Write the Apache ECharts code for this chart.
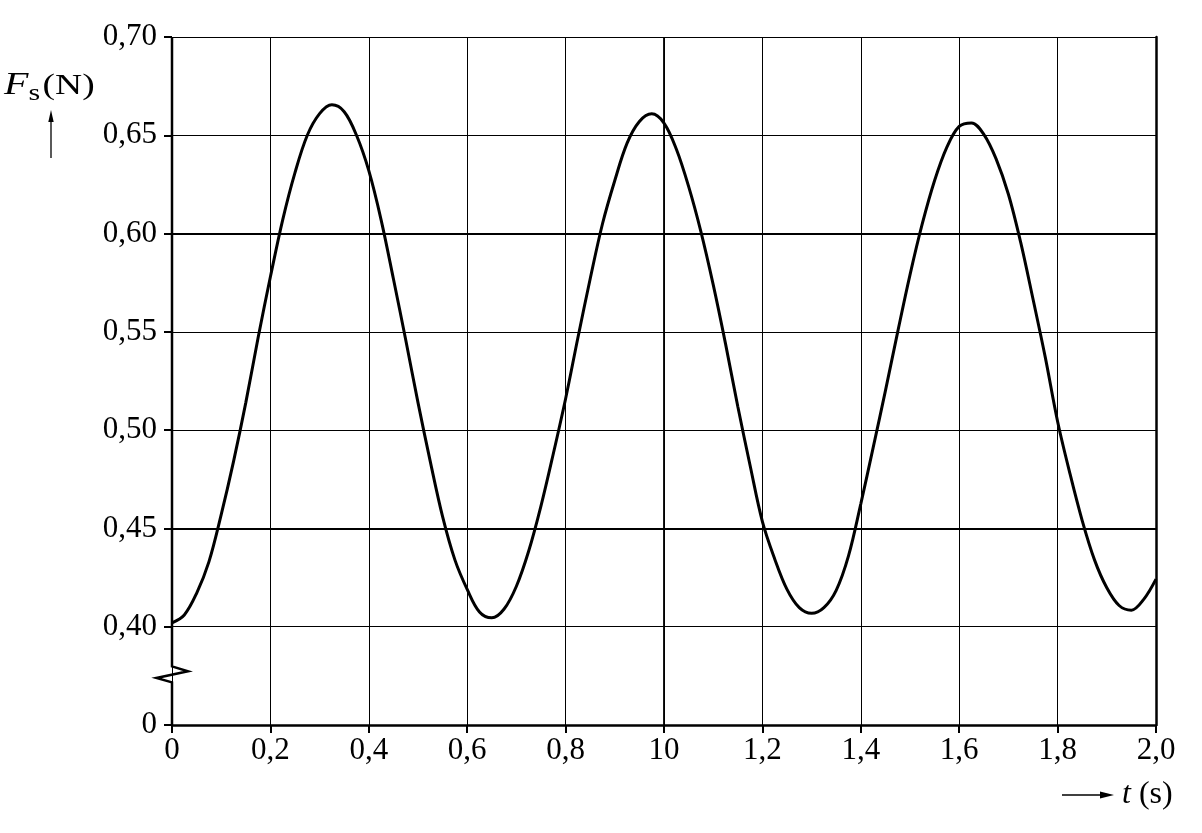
<!DOCTYPE html>
<html>
<head>
<meta charset="utf-8">
<script src="https://cdn.jsdelivr.net/npm/echarts@6/dist/echarts.min.js"></script>
<style>
  html, body { margin: 0; padding: 0; background: #fff; }
  #chart { width: 1202px; height: 833px; }
</style>
</head>
<body>
<div id="chart"></div>
<script>
// t (s) and F_s (N)
const times = [
    0, 0.025, 0.05, 0.075, 0.1, 0.125, 0.15, 0.175, 0.2, 0.225,
    0.25, 0.275, 0.3, 0.325, 0.35, 0.375, 0.4, 0.425, 0.45, 0.475,
    0.5, 0.525, 0.55, 0.575, 0.6, 0.625, 0.65, 0.675, 0.7, 0.725,
    0.75, 0.775, 0.8, 0.825, 0.85, 0.875, 0.9, 0.925, 0.95, 0.975,
    1.0, 1.025, 1.05, 1.075, 1.1, 1.125, 1.15, 1.175, 1.2, 1.225,
    1.25, 1.275, 1.3, 1.325, 1.35, 1.375, 1.4, 1.425, 1.45, 1.475,
    1.5, 1.525, 1.55, 1.575, 1.6, 1.625, 1.65, 1.675, 1.7, 1.725,
    1.75, 1.775, 1.8, 1.825, 1.85, 1.875, 1.9, 1.925, 1.95, 1.975, 2.0
];
const forces = [
    0.402, 0.406, 0.417, 0.433, 0.457, 0.484, 0.514, 0.547, 0.578, 0.607,
    0.631, 0.650, 0.661, 0.6655, 0.662, 0.650, 0.632, 0.607, 0.577, 0.546,
    0.514, 0.484, 0.456, 0.434, 0.419, 0.4075, 0.4045, 0.409, 0.4206, 0.4385,
    0.4615, 0.488, 0.516, 0.547, 0.577, 0.605, 0.627, 0.646, 0.657, 0.6609,
    0.6562, 0.643, 0.624, 0.601, 0.574, 0.544, 0.512, 0.482, 0.4535, 0.4345,
    0.419, 0.4097, 0.4068, 0.4097, 0.4185, 0.436, 0.4625, 0.491, 0.520, 0.550,
    0.579, 0.605, 0.627, 0.644, 0.6545, 0.6563, 0.6505, 0.638, 0.620, 0.5955,
    0.5667, 0.537, 0.5044, 0.478, 0.454, 0.434, 0.4198, 0.4108, 0.4084, 0.4139, 0.4242
];

const xTickLabels = ['0', '0,2', '0,4', '0,6', '0,8', '10', '1,2', '1,4', '1,6', '1,8', '2,0'];
const yTickLabels = ['0', '0,40', '0,45', '0,50', '0,55', '0,60', '0,65', '0,70'];

const font = 'Liberation Serif';
const chartDom = document.getElementById('chart');
const chart = echarts.init(chartDom);

let option = {
    animation: false,
    backgroundColor: '#fff',
    grid: { left: 172, right: 46, top: 37, bottom: 108 },
    xAxis: {
        type: 'value',
        min: 0,
        max: 2,
        interval: 0.2,
        axisLine: { lineStyle: { color: '#000', width: 2.5 } },
        axisTick: { length: 8, lineStyle: { color: '#000', width: 2 } },
        axisLabel: {
            margin: 10,
            color: '#000',
            fontFamily: font,
            fontSize: 31,
            formatter: (v) => xTickLabels[Math.round(v / 0.2)]
        },
        splitLine: { show: true, lineStyle: { color: '#000', width: 1 } }
    },
    yAxis: [
        {
            type: 'value',
            min: 0.35,
            max: 0.70,
            interval: 0.05,
            axisLine: { show: false },
            axisTick: { show: true, length: 8, lineStyle: { color: '#000', width: 2 } },
            axisLabel: {
                margin: 15,
                color: '#000',
                fontFamily: font,
                fontSize: 31,
                formatter: (v) => yTickLabels[Math.round((v - 0.35) / 0.05)]
            },
            splitLine: { show: true, lineStyle: { color: '#000', width: 1 } }
        },
        {
            // right border
            type: 'value',
            position: 'right',
            min: 0.35,
            max: 0.70,
            interval: 0.05,
            axisLine: { show: true, lineStyle: { color: '#000', width: 2.5 } },
            axisTick: { show: false },
            axisLabel: { show: false },
            splitLine: { show: false }
        }
    ],
    series: [
        {
            type: 'line',
            data: times.map((t, i) => [t, forces[i]]),
            smooth: 0.35,
            showSymbol: false,
            lineStyle: { color: '#000', width: 3 },
            markLine: {
                silent: true,
                symbol: 'none',
                label: { show: false },
                lineStyle: { color: '#000', type: 'solid', width: 1.8 },
                data: [{ xAxis: 1.0 }, { yAxis: 0.60 }, { yAxis: 0.45 }]
            },
            z: 5
        }
    ]
};

chart.setOption(option);

// broken y axis with zigzag, placed through the axis scale
const px = (t, v) => chart.convertToPixel({ gridIndex: 0 }, [t, v]);
const axTop = px(0, 0.70);
const axBottom = px(0, 0.35);
const z1 = px(0, 0.3798);
const z2 = px(0, 0.3773);
const z3 = px(0, 0.3739);
const z4 = px(0, 0.3717);

chart.setOption({
    graphic: [
        {
            type: 'polyline',
            shape: {
                points: [axTop, z1, [z1[0] + 16, z2[1]], [z1[0] - 15.5, z3[1]], z4, axBottom]
            },
            style: { stroke: '#000', lineWidth: 2.5, fill: null },
            z: 10
        },
        {
            type: 'text',
            x: 4,
            y: 86,
            scaleX: 1.25,
            style: {
                text: '{f|F}{s|s}{n|(N)}',
                verticalAlign: 'middle',
                rich: {
                    f: { fontFamily: font, fontSize: 32, fontStyle: 'italic', fill: '#000' },
                    s: { fontFamily: font, fontSize: 24, fill: '#000', padding: [15, 2, 0, 0] },
                    n: { fontFamily: font, fontSize: 30, fill: '#000' }
                }
            }
        },
        {
            type: 'line',
            shape: { x1: 51, y1: 158, x2: 51, y2: 118 },
            style: { stroke: '#000', lineWidth: 1.3 }
        },
        {
            type: 'polygon',
            shape: { points: [[51, 110], [48.3, 122], [53.7, 122]] },
            style: { fill: '#000' }
        },
        {
            type: 'text',
            x: 1122,
            y: 795,
            style: {
                text: '{t|t}{n| (s)}',
                verticalAlign: 'middle',
                rich: {
                    t: { fontFamily: font, fontSize: 32, fontStyle: 'italic', fill: '#000' },
                    n: { fontFamily: font, fontSize: 32, fill: '#000' }
                }
            }
        },
        {
            type: 'line',
            shape: { x1: 1062, y1: 795, x2: 1104, y2: 795 },
            style: { stroke: '#000', lineWidth: 1.3 }
        },
        {
            type: 'polygon',
            shape: { points: [[1114, 795], [1100, 791.5], [1100, 798.5]] },
            style: { fill: '#000' }
        }
    ]
});
</script>
</body>
</html>
